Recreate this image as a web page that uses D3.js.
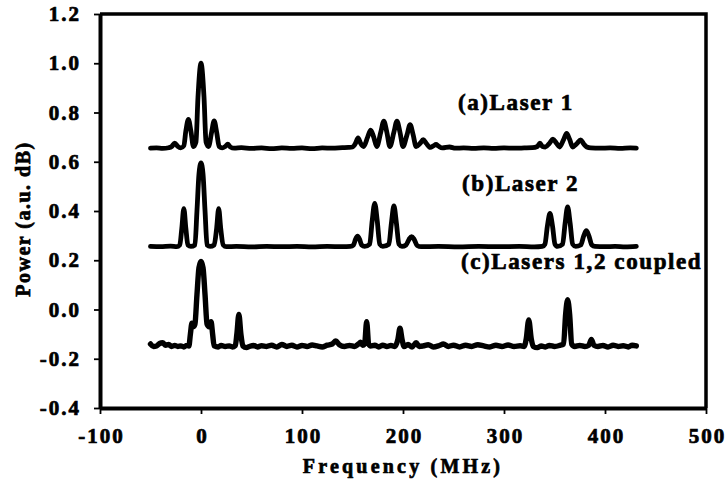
<!DOCTYPE html>
<html><head><meta charset="utf-8">
<script src="https://cdn.jsdelivr.net/npm/d3@7"></script>
<style>
html,body{margin:0;padding:0;background:#fff;}
svg{display:block;}
</style></head>
<body>
<svg id="chart" width="728" height="482"></svg>
<script>
// ---- data (Frequency MHz, Power a.u. dB) ----
const xTicks = [-100, 0, 100, 200, 300, 400, 500];
const yTicks = [-0.4, -0.2, 0.0, 0.2, 0.4, 0.6, 0.8, 1.0, 1.2];
const seriesNames = ["(a)Laser 1", "(b)Laser 2", "(c)Lasers 1,2 coupled"];

const laser1 = [
 [-50,.655],[-44,.656],[-38,.654],[-32,.657],[-29,.662],[-26,.676],[-23,.662],[-20,.656],
 [-17,.665],[-15,.725],[-12.5,.772],[-10,.725],[-7.5,.662],[-5,.68],[-3,.86],[0,1.0],[3,.86],[5,.68],[7.5,.662],
 [10.5,.72],[13,.766],[15.5,.72],[18,.662],[21,.656],[24,.662],[26.5,.671],[29,.66],[33,.655],[40,.657],[50,.654],
 [60,.656],[70,.653],[80,.656],[90,.654],[100,.656],[110,.653],[120,.656],[130,.655],[140,.657],[146,.658],
 [150,.66],[153,.675],[155.5,.697],[158,.675],[161,.662],[165,.7],[168,.728],[171,.7],[174,.662],
 [178,.72],[181,.765],[184,.72],[187,.662],[191,.72],[194,.765],[197,.72],[200,.662],
 [204,.71],[207,.751],[210,.71],[213,.662],[217,.675],[220,.69],[223,.675],[227,.658],
 [230,.664],[232.7,.67],[235,.664],[239,.656],[246,.66],[252,.655],[260,.656],[270,.654],[280,.656],
 [290,.654],[300,.656],[310,.655],[320,.656],[328,.657],
 [333,.662],[335.6,.676],[338,.662],[341,.66],[345,.675],[348.5,.692],[352,.675],[355,.66],
 [359,.69],[362,.715],[365,.69],[368,.66],[372,.673],[376,.689],[379,.672],[382,.66],
 [386,.656],[395,.655],[405,.656],[415,.654],[425,.656],[431,.655]
];

const laser2 = [
 [-50,.256],[-40,.255],[-30,.257],[-24,.255],[-21,.262],[-19,.33],[-17,.41],[-15,.33],[-13,.262],[-10,.256],
 [-6,.262],[-4,.4],[-2,.55],[0,.595],[2,.55],[4,.4],[6,.262],[9,.256],
 [13,.262],[15.5,.33],[17.5,.41],[19.5,.33],[22,.262],[25,.255],[35,.256],[50,.254],[65,.256],[80,.255],
 [95,.256],[110,.254],[125,.256],[140,.255],[148,.256],
 [151,.262],[153,.285],[155,.298],[157,.285],[159,.262],[162,.256],
 [167,.265],[169.5,.36],[172,.431],[174.5,.36],[177,.265],[180,.256],
 [186,.265],[188.5,.35],[191,.421],[193.5,.35],[196,.265],[199,.256],
 [203,.262],[206,.285],[208.5,.296],[211,.285],[214,.26],[218,.255],[235,.256],[255,.254],[275,.256],
 [295,.255],[315,.256],[330,.254],[338,.256],
 [340.5,.265],[343,.34],[345.5,.39],[348,.34],[350.5,.265],[353,.256],
 [358,.265],[360.5,.35],[363,.417],[365.5,.35],[368,.265],[371,.256],
 [376,.262],[379,.3],[381.5,.32],[384,.3],[387,.262],[390,.256],[400,.255],[410,.256],[420,.254],[431,.256]
];

const coupled = [
 [-50,-.14],[-47,-.15],[-44,-.148],[-41,-.138],[-38,-.135],[-35,-.145],[-32,-.142],[-29,-.15],[-26,-.146],
 [-23,-.15],[-20,-.148],[-17,-.152],[-14,-.146],[-12,-.148],[-10.5,-.1],[-9,-.056],[-7.5,-.07],[-6,-.06],
 [-4,.06],[-2,.17],[0,.195],[2,.17],[4,.06],[6,-.06],[8,-.07],[10,-.05],[11.5,-.1],[13,-.148],
 [17,-.152],[20,-.146],[24,-.15],[28,-.148],[31,-.152],[34,-.146],[35.5,-.1],[37.5,-.02],[39.5,-.1],[41.5,-.148],
 [45,-.155],[48,-.15],[52,-.146],[56,-.152],[60,-.147],[65,-.15],[70,-.145],[75,-.152],[80,-.142],[85,-.15],
 [90,-.145],[95,-.152],[100,-.146],[105,-.15],[110,-.144],[115,-.148],[120,-.152],[125,-.145],[130,-.14],
 [133.5,-.128],[137,-.143],[142,-.15],[147,-.146],[152,-.15],[156,-.14],[158,-.133],[160,-.145],[162,-.14],
 [164,-.05],[166,-.14],[168,-.148],[172,-.145],[176,-.152],[180,-.145],[184,-.15],[188,-.146],[192,-.15],
 [195,-.12],[197,-.076],[199,-.12],[201,-.15],[205,-.142],[209,-.152],[213,-.135],[216,-.15],[220,-.148],
 [225,-.143],[230,-.152],[236,-.146],[240,-.14],[245,-.15],[250,-.145],[256,-.152],[262,-.145],[268,-.15],
 [274,-.143],[280,-.148],[286,-.152],[292,-.145],[298,-.15],[304,-.144],[310,-.15],[316,-.147],[320,-.15],
 [322,-.12],[324.5,-.042],[327,-.12],[329,-.15],[333,-.155],[337,-.148],[341,-.152],[345,-.146],[350,-.15],
 [355,-.146],[359,-.14],[361,-.02],[363,.04],[365,-.02],[367,-.14],[370,-.15],[375,-.146],[380,-.15],
 [384,-.145],[386.5,-.122],[389,-.145],[393,-.15],[398,-.146],[403,-.152],[408,-.145],[413,-.15],
 [418,-.147],[423,-.152],[427,-.145],[431,-.148]
];

// ---- layout ----
const FONT = "'Liberation Serif', 'Times New Roman', Times, serif";
const svg = d3.select("#chart");
const L = 100, R = 706, T = 14, B = 408;
const x = d3.scaleLinear().domain([-100, 500]).range([L, R]);
const y = d3.scaleLinear().domain([-0.4, 1.2]).range([B, T]);
const hy = s => s.replace("\u2212", "-");
const styleText = (sel, size, ls) => sel.attr("font-family", null)
  .style("font-family", FONT).style("font-weight", "700").style("font-size", size + "px")
  .style("letter-spacing", ls + "px").style("fill", "#000")
  .style("stroke", "#000").style("stroke-width", "0.7px").style("paint-order", "stroke");

// frame (top + right)
svg.append("path").attr("d", `M${L},${T}H${R}V${B}`).attr("fill","none").attr("stroke","#000").attr("stroke-width",3.5);

// axes
const xAxis = svg.append("g").attr("transform", `translate(0,${B})`)
  .call(d3.axisBottom(x).tickValues(xTicks).tickSize(6).tickSizeOuter(0).tickPadding(16).tickFormat(d => hy(d3.format("d")(d))));
const yAxis = svg.append("g").attr("transform", `translate(${L},0)`)
  .call(d3.axisLeft(y).tickValues(yTicks).tickSize(6).tickSizeOuter(0).tickPadding(16).tickFormat(d => hy(d3.format(".1f")(d))));
[xAxis, yAxis].forEach(g => {
  g.attr("font-family", null);
  g.select(".domain").attr("stroke-width", 4);
  g.selectAll(".tick line").attr("stroke-width", 1.8);
  styleText(g.selectAll("text"), 21, 2);
});
yAxis.selectAll("text").attr("dx", "3px");
xAxis.selectAll("text").attr("dx", "1px").attr("dy", "0.6em");

// traces
const line = d3.line().x(d => x(d[0])).y(d => y(d[1])).curve(d3.curveMonotoneX);
[[laser1, 4.8], [laser2, 4.8], [coupled, 5.4]].forEach(([data, w]) => {
  svg.append("path").datum(data).attr("d", line)
    .attr("fill", "none").attr("stroke", "#000").attr("stroke-width", w)
    .attr("stroke-linejoin", "round").attr("stroke-linecap", "round");
});

// annotations
const labelPos = [[458, 109.5], [462, 191], [461, 269]];
seriesNames.forEach((t, i) => {
  styleText(svg.append("text").attr("x", labelPos[i][0]).attr("y", labelPos[i][1]).text(t), 23, 1.6);
});

// axis titles
styleText(svg.append("text").attr("x", 403).attr("y", 473).attr("text-anchor", "middle").text("Frequency (MHz)"), 20, 3.2);
styleText(svg.append("text").attr("transform", "translate(30,219) rotate(-90)").attr("text-anchor", "middle").text("Power (a.u. dB)"), 20, 1.5);
</script>
</body></html>
